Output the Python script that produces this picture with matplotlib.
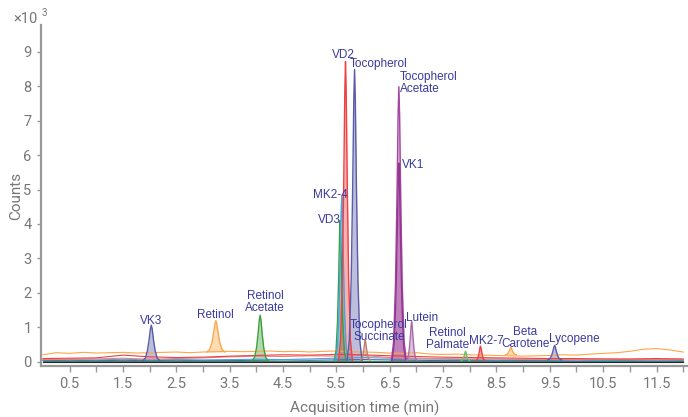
import matplotlib
matplotlib.use("Agg")
import matplotlib.pyplot as plt
import numpy as np

plt.rcParams["font.family"] = ["Roboto", "DejaVu Sans"]

# baseline traces (counts x10^3)
t_fine = [i * 0.25 for i in range(49)]
orange_base = [0.20, 0.26, 0.24, 0.27, 0.25, 0.26, 0.27, 0.25, 0.26, 0.27,
               0.28, 0.26, 0.28, 0.29, 0.30, 0.29, 0.30, 0.31, 0.29, 0.30,
               0.28, 0.30, 0.31, 0.29, 0.28, 0.27, 0.25, 0.24, 0.26, 0.22,
               0.21, 0.22, 0.20, 0.19, 0.18, 0.17, 0.16, 0.17, 0.18, 0.20,
               0.19, 0.22, 0.24, 0.26, 0.30, 0.36, 0.38, 0.34, 0.28]

t_coarse = [i * 0.5 for i in range(25)]
red_base = [0.09, 0.10, 0.11, 0.19, 0.14, 0.12, 0.13, 0.16, 0.18, 0.20, 0.19, 0.21,
            0.20, 0.17, 0.15, 0.13, 0.12, 0.11, 0.10, 0.09, 0.09, 0.08, 0.08, 0.09, 0.08]
pink_base = [0.06, 0.07, 0.08, 0.10, 0.07, 0.09, 0.11, 0.14, 0.16, 0.15, 0.17, 0.16,
             0.18, 0.12, 0.10, 0.09, 0.08, 0.08, 0.07, 0.07, 0.06, 0.07, 0.06, 0.06, 0.06]
blue_base = [0.05, 0.06, 0.05, 0.07, 0.05, 0.06, 0.05, 0.06, 0.07, 0.06, 0.08, 0.10,
             0.12, 0.10, 0.08, 0.07, 0.06, 0.05, 0.06, 0.05, 0.05, 0.04, 0.05, 0.04, 0.05]
navy_base = [0.03, 0.04, 0.03, 0.04, 0.03, 0.04, 0.03, 0.03, 0.04, 0.05, 0.04, 0.05,
             0.06, 0.05, 0.04, 0.03, 0.03, 0.03, 0.03, 0.03, 0.02, 0.03, 0.03, 0.02, 0.03]
green_base = [0.02] * 25
black_base = [0.0] * 25

# compounds: retention time, apex height, base half-width, base level
names = ["VK3", "Retinol", "Retinol\nAcetate", "VD3", "MK2-4", "VD2", "Tocopherol",
         "Tocopherol\nAcetate", "VK1", "Tocopherol\nSuccinate", "Lutein",
         "Retinol\nPalmate", "MK2-7", "Beta\nCarotene", "Lycopene"]
rt = [2.03, 3.24, 4.07, 5.57, 5.60, 5.67, 5.84, 6.67, 6.67, 6.04, 6.91, 7.92, 8.20, 8.77, 9.59]
height = [1.06, 1.19, 1.35, 4.10, 4.80, 8.72, 8.49, 7.99, 5.77, 0.62, 1.16, 0.30, 0.45, 0.41, 0.47]
halfw = [0.16, 0.17, 0.15, 0.11, 0.12, 0.13, 0.14, 0.14, 0.13, 0.09, 0.10, 0.08, 0.09, 0.10, 0.13]
base = [0.03, 0.28, 0.03, 0.03, 0.03, 0.03, 0.03, 0.03, 0.03, 0.05, 0.03, 0.03, 0.03, 0.20, 0.05]
colors = ["#5a5ca8", "#ffa646", "#3aa03a", "#3aa03a", "#4aa3de", "#f04040", "#5a5ca8",
          "#a545a5", "#94358f", "#c08070", "#a86aa8", "#6cc06c", "#f04040", "#ffa646", "#5a5ca8"]
label_x = [2.03, 3.24, 4.16, 5.37, 5.39, 5.63, 6.30, 6.69, 6.73, 6.30, 7.10, 7.58, 8.31, 9.04, 9.96]
label_y = [1.19, 1.35, 1.73, 4.11, 4.84, 8.91, 8.64, 8.10, 5.71, 0.89, 1.26, 0.67, 0.60, 0.70, 0.65]
label_ha = ["center"] * 7 + ["left", "left"] + ["center"] * 6

# shared peak profile (offset in half-widths, fraction of apex)
prof_dx = [-1, -0.7, -0.45, -0.25, -0.1, 0, 0.1, 0.25, 0.45, 0.7, 1]
prof_h = [0, 0.07, 0.28, 0.6, 0.9, 1, 0.9, 0.6, 0.28, 0.07, 0]

fig = plt.figure(figsize=(6.88, 4.17), dpi=100)
ax = fig.add_axes([0.059, 0.122, 0.941, 0.818])

ax.plot(t_coarse, black_base, color="#222222", lw=0.8)
ax.plot(t_coarse, green_base, color="#2e8b57", lw=0.8)
ax.plot(t_coarse, navy_base, color="#5a5ca8", lw=0.8)
ax.plot(t_coarse, blue_base, color="#4aa3de", lw=0.8)
ax.plot(t_coarse, pink_base, color="#f08080", lw=0.8)
ax.plot(t_coarse, red_base, color="#f04040", lw=0.8)
ax.plot(t_fine, orange_base, color="#ffa646", lw=0.8)

for i in range(len(names)):
    px = [rt[i] + d * halfw[i] for d in prof_dx]
    py = [base[i] + f * (height[i] - base[i]) for f in prof_h]
    ax.fill_between(px, base[i], py, color=colors[i], alpha=0.4, lw=0)
    ax.plot(px, py, color=colors[i], lw=1)
    ax.text(label_x[i], label_y[i], names[i], ha=label_ha[i], va="center",
            fontsize=8.5, color="#3a3a9e", linespacing=1.0,
            family=["Liberation Sans", "DejaVu Sans"])

ax.set_xlim(-0.045, 12.09)
ax.set_ylim(-0.13, 9.78)
ax.set_xticks([0.5 + i for i in range(12)])
ax.set_xticks([1.0 + i for i in range(12)], minor=True)
ax.set_yticks(range(10))
ax.tick_params(axis="both", which="both", colors="#999999", labelcolor="#777777",
               labelsize=10.5, length=4, width=1)
ax.tick_params(axis="y", length=3)
for s in ["top", "right"]:
    ax.spines[s].set_visible(False)
for s in ["left", "bottom"]:
    ax.spines[s].set_color("#999999")
    ax.spines[s].set_linewidth(1.6)

ax.set_xlabel("Acquisition time (min)", fontsize=11, color="#777777", labelpad=7)
ax.set_ylabel("Counts", fontsize=11, color="#777777", labelpad=0)
fig.text(0.019, 0.954, "×10", fontsize=10.5, color="#777777", va="center")
fig.text(0.060, 0.968, "3", fontsize=7, color="#777777", va="center")

fig.savefig("out.png", dpi=100)
